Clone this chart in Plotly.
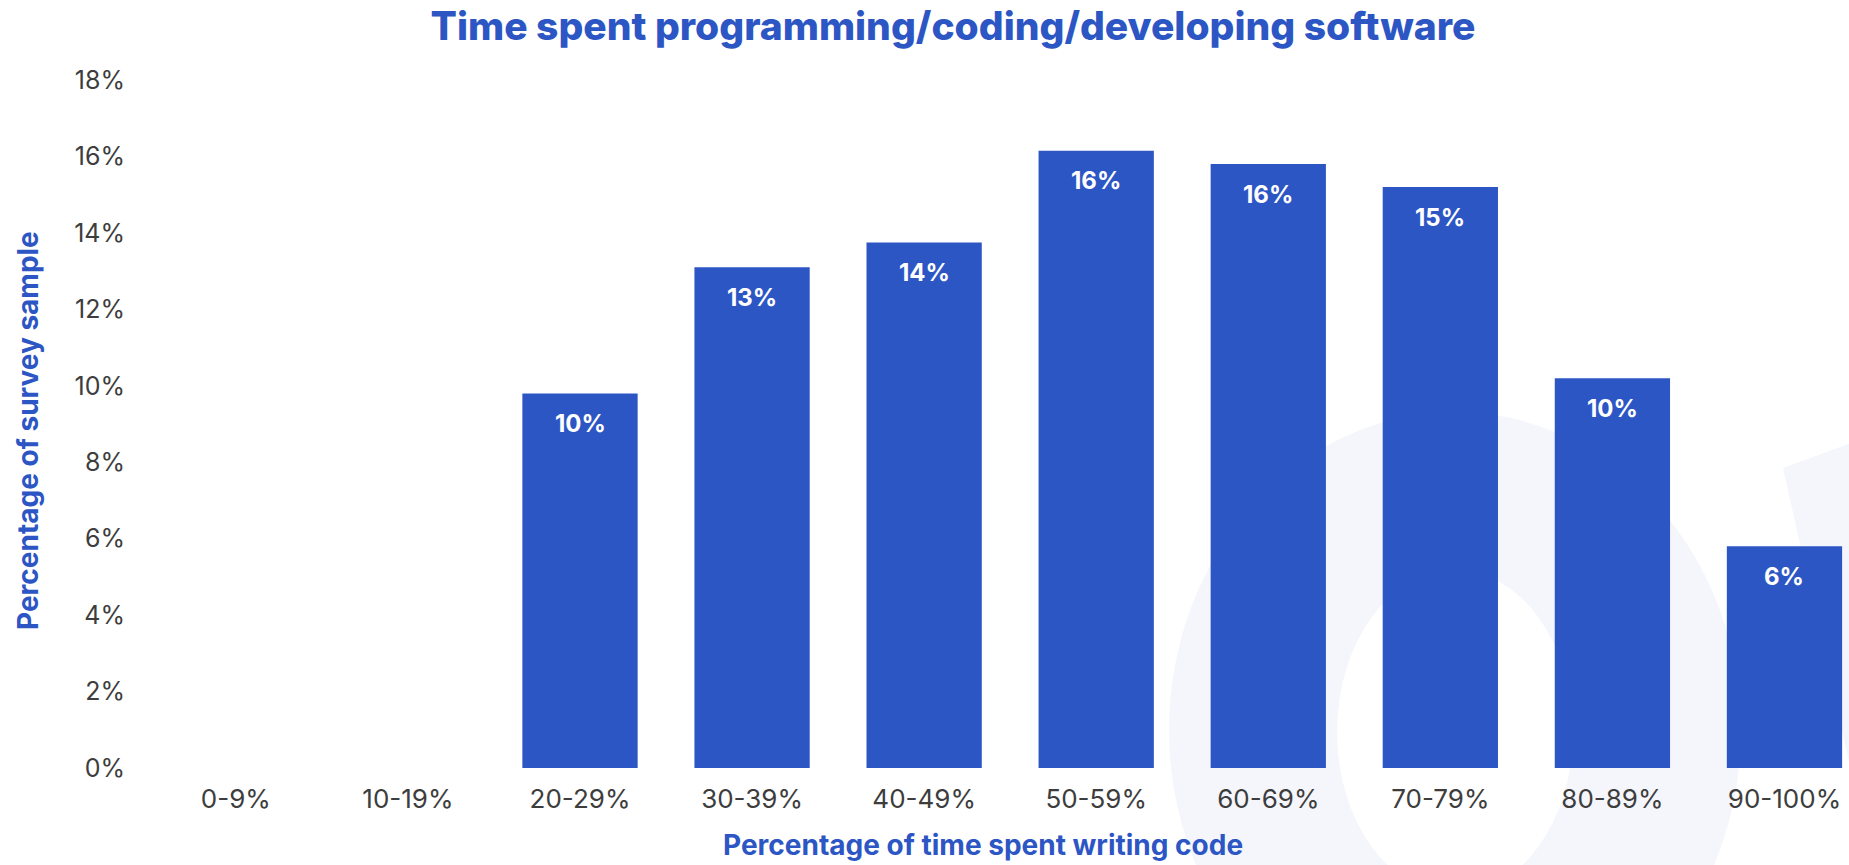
import plotly.graph_objects as go

# Share of respondents by time spent writing code
categories = ["0-9%", "10-19%", "20-29%", "30-39%", "40-49%",
              "50-59%", "60-69%", "70-79%", "80-89%", "90-100%"]
shares = [0, 0, 9.8, 13.1, 13.75, 16.15, 15.8, 15.2, 10.2, 5.8]
y_ticks = [0, 2, 4, 6, 8, 10, 12, 14, 16, 18]
y_tick_labels = [f"{v}%" for v in y_ticks]

BLUE = "#2d56c5"
GREY = "#3d3d3d"
MARK = "#f5f6fb"
FONT = "Inter"

W, H = 1849, 865
PLOT_L, PLOT_R, PLOT_T, PLOT_B = 150, W, 80, 768


def px_x(v):
    return (v - PLOT_L) / (PLOT_R - PLOT_L)


def px_y(v):
    return (PLOT_B - v) / (PLOT_B - PLOT_T)


fig = go.Figure(
    go.Bar(
        x=categories,
        y=shares,
        marker=dict(color=BLUE, line=dict(width=0)),
        hoverinfo="x+y",
    )
)

# value labels inside the top of each bar
for cat, val in zip(categories, shares):
    if val > 0:
        fig.add_annotation(
            x=cat, y=val, xref="x", yref="y",
            text=f"{round(val)}%", showarrow=False,
            yanchor="middle", yshift=-30,
            font=dict(family=FONT, size=24, color="white", weight=700),
        )

# faint background emblem
shapes = [
    dict(type="circle", xref="paper", yref="paper", layer="below",
         x0=px_x(1169), x1=px_x(1741), y0=px_y(1048), y1=px_y(412),
         fillcolor=MARK, line=dict(width=0)),
    dict(type="circle", xref="paper", yref="paper", layer="below",
         x0=px_x(1337), x1=px_x(1573), y0=px_y(894), y1=px_y(570),
         fillcolor="white", line=dict(width=0)),
    dict(type="path", xref="paper", yref="paper", layer="below",
         path=(f"M {px_x(1783)} {px_y(468)} L {px_x(1900)} {px_y(425)} "
               f"L {px_x(1900)} {px_y(900)} L {px_x(1880)} {px_y(900)} Z"),
         fillcolor=MARK, line=dict(width=0)),
]

fig.update_layout(
    width=W, height=H, autosize=False,
    margin=dict(l=PLOT_L, r=W - PLOT_R, t=PLOT_T, b=H - PLOT_B, pad=0),
    paper_bgcolor="white", plot_bgcolor="rgba(0,0,0,0)",
    bargap=0.33, showlegend=False, shapes=shapes,
    font=dict(family=FONT, color=GREY),
    title=dict(
        text="Time spent programming/coding/developing software",
        x=953 / W, xref="container", xanchor="center",
        y=1 - 26 / H, yref="container", yanchor="middle",
        font=dict(family=FONT, size=39, color=BLUE, weight=800),
    ),
)

fig.update_xaxes(
    range=[-0.499, 9.375], showgrid=False, zeroline=False, showline=False,
    ticks="", ticklabelstandoff=13,
    tickfont=dict(family=FONT, size=26, color=GREY),
)
fig.update_yaxes(
    range=[0, 18], tickmode="array", tickvals=y_ticks, ticktext=y_tick_labels,
    showgrid=False, zeroline=False, showline=False,
    ticks="", ticklabelstandoff=24,
    tickfont=dict(family=FONT, size=25, color=GREY),
)

# axis titles
fig.add_annotation(
    text="Percentage of time spent writing code", showarrow=False,
    xref="paper", yref="paper", x=px_x(983), y=px_y(864),
    xanchor="center", yanchor="bottom",
    font=dict(family=FONT, size=28, color=BLUE, weight=700),
)
fig.add_annotation(
    text="Percentage of survey sample", showarrow=False, textangle=-90,
    xref="paper", yref="paper", x=px_x(28), y=px_y(431),
    xanchor="center", yanchor="middle",
    font=dict(family=FONT, size=28, color=BLUE, weight=700),
)

fig.write_html("out.html")
